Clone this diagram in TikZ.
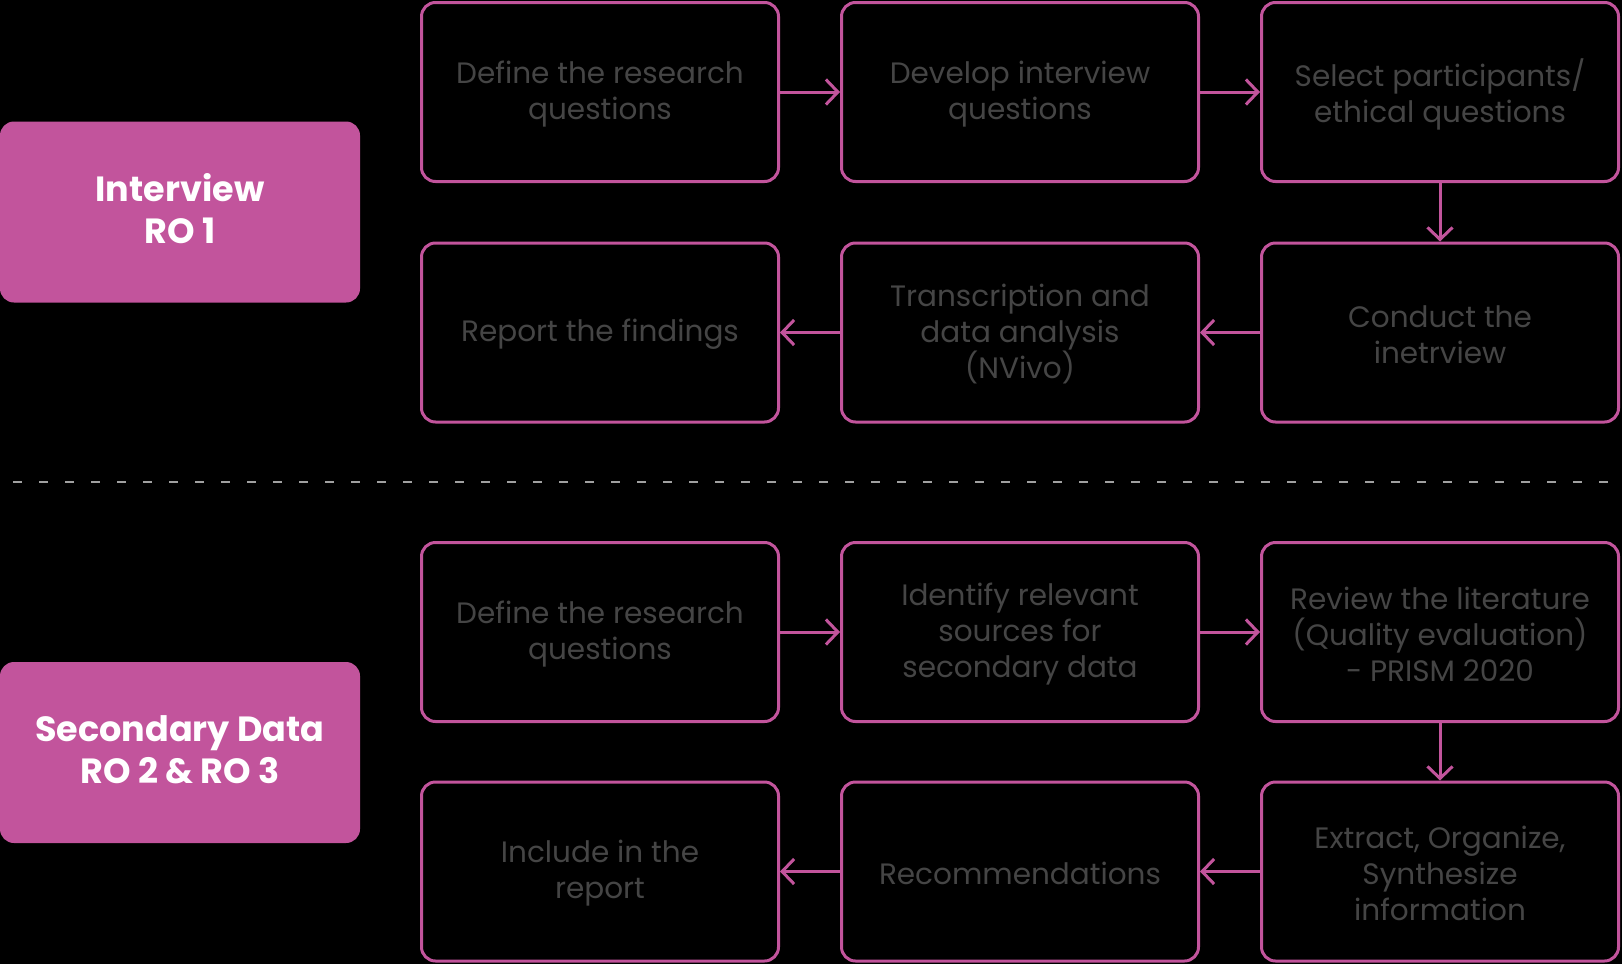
\documentclass[tikz,border=0pt]{standalone}
\usepackage{fontspec}
\setmainfont{Poppins}
\usetikzlibrary{arrows.meta}
\definecolor{mag}{HTML}{C2549C}
\definecolor{txtgray}{HTML}{454545}
\definecolor{dashgray}{HTML}{A0A0A0}
\tikzset{
  stepbox/.style={draw=mag, line width=3pt, rounded corners=14pt,
    minimum width=357pt, minimum height=179pt, align=center,
    text=txtgray, font=\fontsize{29.5}{36}\selectfont, inner sep=0pt},
  steptext/.style={yshift=-2pt},
  headbox/.style={fill=mag, rounded corners=14pt, minimum width=360pt,
    minimum height=181pt, align=center, text=white,
    font=\fontsize{35}{42}\selectfont\bfseries, inner sep=0pt},
  flow/.style={draw=mag, line width=3pt,
    -{Straight Barb[length=12pt,width=25pt,line width=3pt]}}
}
\begin{document}
\begin{tikzpicture}[x=1pt,y=1pt]
\fill[black] (0,0) rectangle (1622,-964);
\useasboundingbox (0,0) rectangle (1622,-964);

% headers
\node[headbox] (h1) at (180,-212) {};
\node[text=white, font=\fontsize{35}{42}\selectfont\bfseries, align=center] (h1t) at (180,-209) {Interview\\RO 1};
\node[headbox] (h2) at (180,-752.5) {};
\node[text=white, font=\fontsize{35}{42}\selectfont\bfseries, align=center] (h2t) at (180,-750) {Secondary Data\\RO 2 \& RO 3};

% interview block
\node[stepbox] (a1) at (600,-92) {};
\node[stepbox] (a2) at (1020,-92) {};
\node[stepbox] (a3) at (1440,-92) {};
\node[stepbox] (a4) at (1440,-332.5) {};
\node[stepbox] (a5) at (1020,-332.5) {};
\node[stepbox] (a6) at (600,-332.5) {};
\begin{scope}[every node/.style={text=txtgray, font=\fontsize{29.5}{36}\selectfont, align=center, inner sep=0pt}]
\node (a1t) at ([yshift=-2pt]a1.center) {Define the research\\questions};
\node (a2t) at ([yshift=-2pt]a2.center) {Develop interview\\questions};
\node (a3t) at ([yshift=-2pt]a3.center) {Select participants/\\ethical questions};
\node (a4t) at ([yshift=-2pt]a4.center) {Conduct the\\inetrview};
\node (a5t) at ([yshift=-2pt]a5.center) {Transcription and\\data analysis\\(NVivo)};
\node (a6t) at ([yshift=-2pt]a6.center) {Report the findings};
\end{scope}

\draw[flow] (a1.east) -- (a2.west);
\draw[flow] (a2.east) -- (a3.west);
\draw[flow] (a3.south) -- (a4.north);
\draw[flow] (a4.west) -- (a5.east);
\draw[flow] (a5.west) -- (a6.east);

% separator
\draw[dashgray, line width=2.5pt, dash pattern=on 9pt off 17pt] (13,-482) -- (1622,-482);

% secondary block
\node[stepbox] (b1) at (600,-632) {};
\node[stepbox] (b2) at (1020,-632) {};
\node[stepbox] (b3) at (1440,-632) {};
\node[stepbox] (b4) at (1440,-871.5) {};
\node[stepbox] (b5) at (1020,-871.5) {};
\node[stepbox] (b6) at (600,-871.5) {};
\begin{scope}[every node/.style={text=txtgray, font=\fontsize{29.5}{36}\selectfont, align=center, inner sep=0pt}]
\node (b1t) at ([yshift=-2pt]b1.center) {Define the research\\questions};
\node (b2t) at ([yshift=-2pt]b2.center) {Identify relevant\\sources for\\secondary data};
\node (b3t) at ([yshift=-2pt]b3.center) {Review the literature\\(Quality evaluation)\\- PRISM 2020};
\node (b4t) at ([yshift=-2pt]b4.center) {Extract, Organize,\\Synthesize\\information};
\node (b5t) at ([yshift=-2pt]b5.center) {Recommendations};
\node (b6t) at ([yshift=-2pt]b6.center) {Include in the\\report};
\end{scope}

\draw[flow] (b1.east) -- (b2.west);
\draw[flow] (b2.east) -- (b3.west);
\draw[flow] (b3.south) -- (b4.north);
\draw[flow] (b4.west) -- (b5.east);
\draw[flow] (b5.west) -- (b6.east);
\end{tikzpicture}
\end{document}
